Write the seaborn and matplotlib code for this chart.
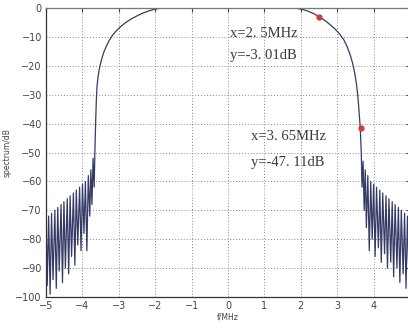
import numpy as np
import pandas as pd
import matplotlib
matplotlib.use("Agg")
import matplotlib.pyplot as plt
import seaborn as sns

# spectrum: left stopband, main lobe, right stopband
left_f = [-5.00, -4.97, -4.93, -4.89, -4.85, -4.81, -4.76, -4.72, -4.68, -4.64,
          -4.59, -4.55, -4.51, -4.47, -4.42, -4.38, -4.34, -4.30, -4.25, -4.21,
          -4.17, -4.13, -4.08, -4.04, -4.00, -3.96, -3.92, -3.88, -3.84, -3.80,
          -3.77, -3.74, -3.71, -3.68, -3.66]
left_db = [-73, -96, -72, -99, -71, -94, -70, -97, -69, -91,
           -68, -95, -67, -90, -66, -92, -65, -86, -64, -89,
           -63, -82, -62, -84, -61, -78, -60, -84, -58, -72,
           -56, -68, -52, -62, -50]

main_f = [-3.64, -3.62, -3.60, -3.57, -3.53, -3.48, -3.42, -3.35, -3.27, -3.18,
          -3.08, -2.95, -2.80, -2.65, -2.50, -2.35, -2.20, -2.05, -1.90, -1.75,
          0.00, 1.75, 1.90, 2.05, 2.20, 2.35, 2.50, 2.65, 2.80, 2.95,
          3.08, 3.18, 3.27, 3.35, 3.42, 3.48, 3.53, 3.57, 3.60, 3.63, 3.66]
main_db = [-40, -32, -27, -23.5, -20.5, -18, -15.5, -13.3, -11.3, -9.5,
           -8.0, -6.4, -4.9, -3.7, -2.7, -1.8, -1.1, -0.5, -0.15, 0.0,
           0.0, 0.0, -0.15, -0.5, -1.1, -1.9, -3.0, -4.2, -5.7, -7.4,
           -9.2, -11.0, -13.3, -16.0, -19.0, -22.5, -26.5, -31, -36, -41, -50]

right_f = [3.68, 3.71, 3.74, 3.77, 3.80, 3.84, 3.88, 3.92, 3.96, 4.00,
           4.04, 4.08, 4.13, 4.17, 4.21, 4.25, 4.30, 4.34, 4.38, 4.42,
           4.47, 4.51, 4.55, 4.59, 4.64, 4.68, 4.72, 4.76, 4.81, 4.85,
           4.89, 4.93, 4.97, 5.00]
right_db = [-62, -53, -70, -56, -76, -58, -84, -60, -80, -61,
            -86, -62, -83, -63, -88, -64, -85, -65, -90, -66,
            -88, -67, -93, -68, -90, -69, -95, -70, -92, -71,
            -97, -72, -94, -73]

marker_f = [2.5, 3.65]
marker_db = [-3.0, -41.5]
labels = [("x=2. 5MHz", 0.05, -8.7), ("y=-3. 01dB", 0.05, -16.4),
          ("x=3. 65MHz", 0.64, -44.6), ("y=-47. 11dB", 0.64, -53.6)]

df = pd.DataFrame({"f": left_f + main_f + right_f,
                   "db": left_db + main_db + right_db})

sns.set_style("white")
fig = plt.figure(figsize=(4.08, 3.28), dpi=100)
ax = fig.add_axes([0.113, 0.0945, 0.892, 0.881])

sns.lineplot(data=df, x="f", y="db", sort=False, estimator=None,
             color="#353a66", linewidth=0.9, ax=ax)
ax.plot(marker_f, marker_db, "o", color="#d23a3a", markersize=3.5, zorder=5)

for txt, x, y in labels:
    ax.text(x, y, txt, fontsize=10.5, family=["Liberation Serif", "DejaVu Serif"],
            color="#3a3a3a", va="center", ha="left")

ax.set_xlim(-5, 5)
ax.set_ylim(-100, 0)
ax.set_xticks(range(-5, 6))
ax.set_yticks(range(-100, 1, 10))
ax.grid(True, linestyle=(0, (1, 2)), color="#888888", linewidth=0.7)
ax.tick_params(direction="in", length=3, labelsize=7, colors="#444444",
               top=True, right=True, pad=3)
for s in ax.spines.values():
    s.set_color("#333333")
    s.set_linewidth(0.9)
ax.spines["top"].set_color("#777777")
ax.set_xlabel("f/MHz", fontsize=5.5, color="#444444", labelpad=1)
ax.set_ylabel("spectrum/dB", fontsize=5.5, color="#444444", labelpad=3)

fig.savefig("out.png", dpi=100)
